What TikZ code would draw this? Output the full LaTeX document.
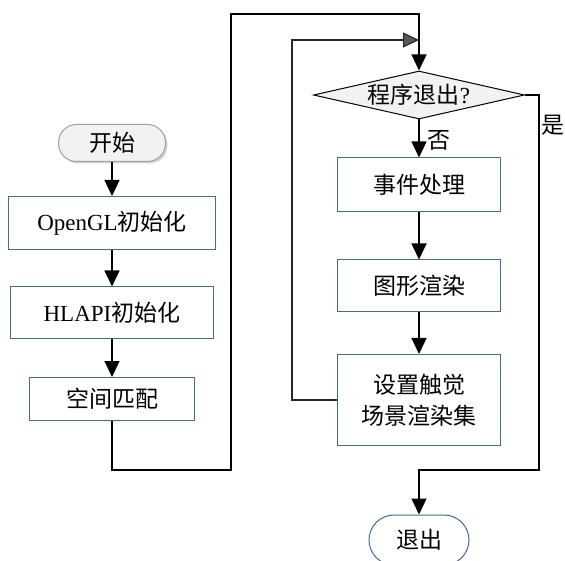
\documentclass[tikz,border=0pt]{standalone}
\usepackage{fontspec}
\setmainfont{Liberation Serif}
\newfontfamily\cjk{Noto Sans CJK SC}
\usetikzlibrary{shapes.geometric,arrows.meta,shadows}
\definecolor{boxblue}{RGB}{65,105,155}
\definecolor{linegray}{RGB}{40,40,40}
\tikzset{
  every node/.style={font=\fontsize{23}{28}\selectfont},
  procbox/.style={draw=boxblue, line width=1pt, fill=white, rectangle, inner sep=0pt, align=center},
  termstart/.style={draw=gray!75, line width=1pt, fill=gray!10, rectangle, rounded corners=18pt,
    minimum width=107pt, minimum height=37pt, inner sep=0pt,
    drop shadow={opacity=0.35, shadow xshift=2pt, shadow yshift=-2pt}},
  termend/.style={draw=boxblue, line width=1pt, fill=white, rectangle, rounded corners=25pt,
    minimum width=100pt, minimum height=50pt, inner sep=0pt},
  decision/.style={draw=black, line width=1pt, fill=gray!10, diamond, aspect=4.4, inner sep=0pt,
    minimum width=211pt, minimum height=48pt},
  arr/.style={draw=black, line width=1.2pt, -{Triangle[length=16pt, width=15pt]}},
  grayarr/.style={draw=linegray, line width=1.2pt, -{Triangle[length=16pt, width=15pt, fill=gray!70!black]}},
  lbl/.style={inner sep=0pt}
}
\begin{document}
\begin{tikzpicture}[x=1pt, y=-1pt]
\useasboundingbox (0,0) rectangle (565,561);
% left column
\node[termstart] (start) at (112,143) {\cjk 开始};
\node[procbox, minimum width=207pt, minimum height=53pt] (ogl) at (112,223) {OpenGL{\cjk 初始化}};
\node[procbox, minimum width=203pt, minimum height=52pt] (hl) at (112,313) {HLAPI{\cjk 初始化}};
\node[procbox, minimum width=165pt, minimum height=43pt] (kj) at (112,399) {\cjk 空间匹配};
% right column
\node[decision] (dia) at (419,95) {{\cjk 程序退出}?};
\node[procbox, minimum width=163pt, minimum height=54pt] (evt) at (419,185) {\cjk 事件处理};
\node[procbox, minimum width=163pt, minimum height=52pt] (gx) at (419,286) {\cjk 图形渲染};
\node[procbox, minimum width=163pt, minimum height=91pt, font=\fontsize{23}{31}\selectfont] (sz) at (419,400) {\cjk 设置触觉\\\cjk 场景渲染集};
\node[termend] (exit) at (419,540) {\cjk 退出};
% labels
\node[lbl] (no) at (439,140) {\cjk 否};
\node[lbl] (yes) at (553,125) {\cjk 是};
% helper coordinates
\coordinate (c1) at (231,470);
\coordinate (c2) at (231,14);
\coordinate (c3) at (292,40);
\coordinate (c5) at (539,470);
% connectors
\draw[arr] (start) -- (ogl);
\draw[arr] (ogl) -- (hl);
\draw[arr] (hl) -- (kj);
\draw[arr] (kj.south) |- (c1) -- (c2) -| (dia.north);
\draw[arr] (dia.south) -- (evt.north);
\draw[arr] (evt) -- (gx);
\draw[arr] (gx) -- (sz);
\draw[grayarr] (sz.west) -| (c3) -- (c3 -| dia.north);
\draw[arr] (dia.east) -| (c5) -| (exit.north);
\end{tikzpicture}
\end{document}
